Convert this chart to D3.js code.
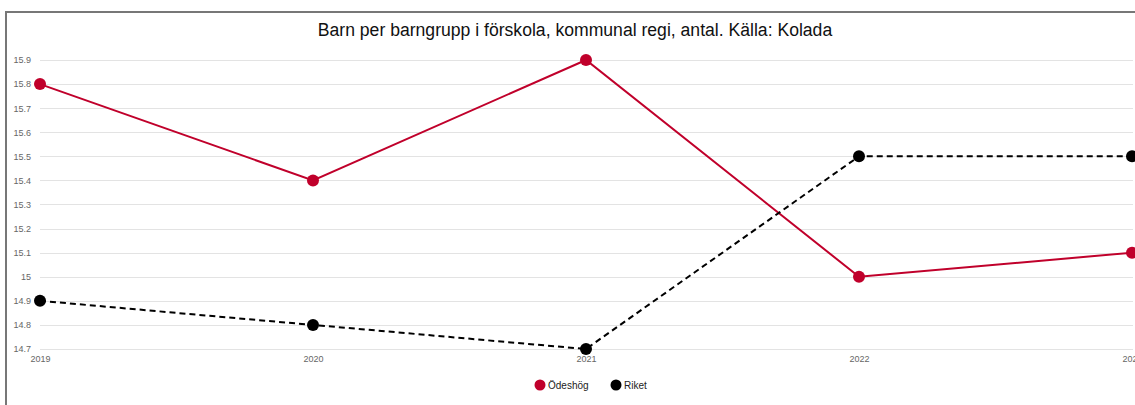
<!DOCTYPE html>
<html>
<head>
<meta charset="utf-8">
<script src="https://cdn.jsdelivr.net/npm/d3@7"></script>
<style>
body { margin: 0; background: #fff; }
svg { display: block; font-family: "Liberation Sans", Arial, sans-serif; }
</style>
</head>
<body>
<script>
// data
var years = ["2019", "2020", "2021", "2022", "2023"];
var odeshog = [15.8, 15.4, 15.9, 15.0, 15.1];
var riket = [14.9, 14.8, 14.7, 15.5, 15.5];
var yTicks = [14.7, 14.8, 14.9, 15, 15.1, 15.2, 15.3, 15.4, 15.5, 15.6, 15.7, 15.8, 15.9];
var seriesNames = ["Ödeshög", "Riket"];
var seriesColors = ["#c0002b", "#000000"];

var w = 1135, h = 405;
var svg = d3.select("body").append("svg").attr("width", w).attr("height", h);

// frame
svg.append("path")
    .attr("d", "M6,405 V12 H1135")
    .attr("fill", "none")
    .attr("stroke", "#777")
    .attr("stroke-width", 2);

svg.append("text")
    .text("Barn per barngrupp i förskola, kommunal regi, antal. Källa: Kolada")
    .attr("x", 575)
    .attr("y", 36)
    .attr("text-anchor", "middle")
    .attr("font-size", "17.6px")
    .attr("fill", "#111");

var xScale = d3.scalePoint().domain(years).range([40, 1132]);
var yScale = d3.scaleLinear().domain([14.7, 15.9]).range([349, 60]);

// grid
svg.selectAll("line.grid")
    .data(yTicks)
    .enter()
    .append("line")
    .attr("class", "grid")
    .attr("x1", 40)
    .attr("x2", 1133)
    .attr("y1", (d) => { return Math.round(yScale(d)) + 0.5; })
    .attr("y2", (d) => { return Math.round(yScale(d)) + 0.5; })
    .attr("stroke", "#e3e3e3")
    .attr("stroke-width", 1);

// y axis
var yAxis = d3.axisLeft(yScale).tickValues(yTicks).tickSize(0).tickPadding(9)
    .tickFormat((d) => { return String(+d.toFixed(1)); });
var gy = svg.append("g").attr("transform", "translate(40,0)").call(yAxis);
gy.select(".domain").remove();
gy.selectAll("text").attr("font-size", "9px").attr("fill", "#666")
    .attr("font-family", "Liberation Sans, Arial, sans-serif");

// x axis
var xAxis = d3.axisBottom(xScale).tickSize(0).tickPadding(7);
var gx = svg.append("g").attr("transform", "translate(0,349)").call(xAxis);
gx.select(".domain").remove();
gx.selectAll("text").attr("font-size", "9px").attr("fill", "#666")
    .attr("font-family", "Liberation Sans, Arial, sans-serif");

var line = d3.line()
    .x((d, i) => { return xScale(years[i]); })
    .y((d) => { return yScale(d); });

var allSeries = [odeshog, riket];

allSeries.forEach((s, k) => {
    svg.append("path")
        .datum(s)
        .attr("d", line)
        .attr("fill", "none")
        .attr("stroke", seriesColors[k])
        .attr("stroke-width", 2)
        .attr("stroke-dasharray", k == 1 ? "6,4" : null);
});

allSeries.forEach((s, k) => {
    svg.selectAll("circle.s" + k)
        .data(s)
        .enter()
        .append("circle")
        .attr("class", "s" + k)
        .attr("cx", (d, i) => { return xScale(years[i]); })
        .attr("cy", (d) => { return yScale(d); })
        .attr("r", 6)
        .attr("fill", seriesColors[k]);
});

// legend
var legendX = [540, 616];
var legend = svg.selectAll("g.legend")
    .data(seriesNames)
    .enter()
    .append("g")
    .attr("class", "legend")
    .attr("transform", (d, i) => { return "translate(" + legendX[i] + ",385)"; });

legend.append("circle")
    .attr("r", 5.5)
    .attr("fill", (d, i) => { return seriesColors[i]; });

legend.append("text")
    .text((d) => { return d; })
    .attr("x", 8)
    .attr("y", 3.5)
    .attr("font-size", "10px")
    .attr("fill", "#222");
</script>
</body>
</html>
